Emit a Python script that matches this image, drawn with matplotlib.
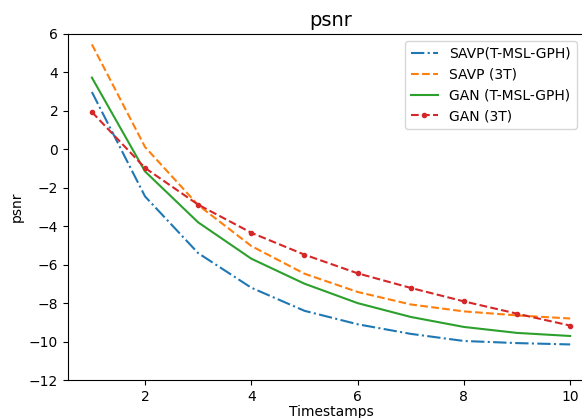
import matplotlib
matplotlib.use('Agg')
import matplotlib.pyplot as plt

timestamps = [1, 2, 3, 4, 5, 6, 7, 8, 9, 10]
savp_tmsl = [2.98, -2.45, -5.4, -7.2, -8.4, -9.1, -9.6, -9.97, -10.08, -10.15]
savp_3t = [5.46, 0.12, -2.9, -5.03, -6.47, -7.42, -8.07, -8.43, -8.64, -8.8]
gan_tmsl = [3.73, -1.15, -3.8, -5.69, -6.99, -8.0, -8.72, -9.24, -9.55, -9.71]
gan_3t = [1.94, -0.97, -2.88, -4.34, -5.48, -6.45, -7.21, -7.91, -8.55, -9.17]

fig = plt.figure(figsize=(5.82, 4.18), dpi=100)
ax = fig.add_axes([0.1168, 0.0909, 0.904, 0.8278])

ax.plot(timestamps, savp_tmsl, '-.', color='tab:blue', label='SAVP(T-MSL-GPH)')
ax.plot(timestamps, savp_3t, '--', color='tab:orange', label='SAVP (3T)')
ax.plot(timestamps, gan_tmsl, '-', color='tab:green', label='GAN (T-MSL-GPH)')
ax.plot(timestamps, gan_3t, '--', marker='.', color='tab:red', label='GAN (3T)')

ax.set_ylim(-12, 6)
ax.set_yticks(range(-12, 7, 2))
ax.set_xticks([2, 4, 6, 8, 10])
ax.set_xlabel('Timestamps', labelpad=1)
ax.set_ylabel('psnr')
ax.set_title('psnr', fontsize=14)
ax.legend(loc='upper right', bbox_to_anchor=(0.98, 1.0))

fig.savefig('out.png', dpi=100)
